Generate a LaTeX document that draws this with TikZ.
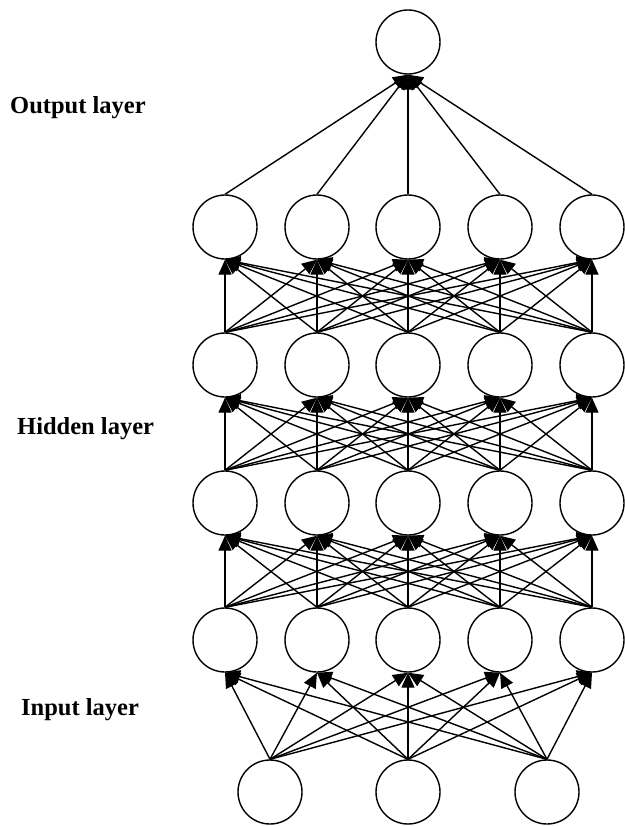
\documentclass[tikz,border=0pt]{standalone}
\usepackage{fontspec}
\setmainfont{Liberation Serif}
\usetikzlibrary{arrows.meta}
\begin{document}
\begin{tikzpicture}[x=1pt,y=-1pt,
  neuron/.style={circle,draw=black,line width=1.4pt,minimum size=64pt,inner sep=0pt,fill=white},
  conn/.style={line width=1.4pt,-{Triangle[length=15pt,width=13pt]}},
  lab/.style={anchor=west,font=\fontsize{24.5}{28}\selectfont\bfseries,inner sep=0pt}]
\useasboundingbox (0,0) rectangle (624,826);
% nodes
\node[neuron] (out) at (408,42) {};
\foreach \i/\x in {1/225,2/317,3/408,4/500,5/592}{
  \node[neuron] (d\i) at (\x,227) {};
  \node[neuron] (c\i) at (\x,365) {};
  \node[neuron] (b\i) at (\x,503) {};
  \node[neuron] (a\i) at (\x,640) {};
}
\foreach \i/\x in {1/270,2/408,3/547}{
  \node[neuron] (in\i) at (\x,792) {};
}
% labels
\node[lab] (lo) at (10,108) {Output layer};
\node[lab] (lh) at (17,429) {Hidden layer};
\node[lab] (li) at (21,710) {Input layer};
% connectors
\foreach \s in {1,2,3}{
  \foreach \t in {1,...,5}{
    \draw[conn] (in\s.north) -- (a\t.south);
  }
}
\foreach \s in {1,...,5}{
  \foreach \t in {1,...,5}{
    \draw[conn] (a\s.north) -- (b\t.south);
    \draw[conn] (b\s.north) -- (c\t.south);
    \draw[conn] (c\s.north) -- (d\t.south);
  }
  \draw[conn] (d\s.north) -- (out.south);
}
\end{tikzpicture}
\end{document}
